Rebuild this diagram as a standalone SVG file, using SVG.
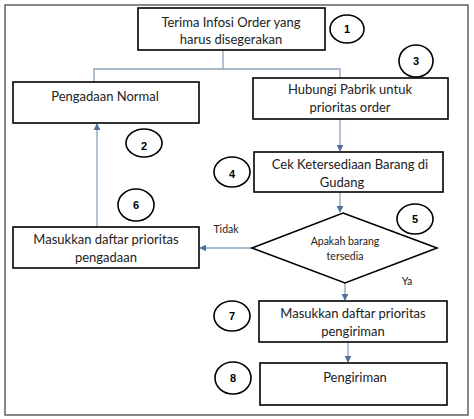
<svg xmlns="http://www.w3.org/2000/svg" width="474" height="419" viewBox="0 0 474 419">
<style>
.box{fill:#fff;stroke:#000;stroke-width:1.6}
.t{font-family:Lato,"Open Sans",sans-serif;font-size:13px;fill:#222;text-anchor:middle}
.s{font-family:Lato,"Open Sans",sans-serif;font-size:10.5px;fill:#222;text-anchor:middle}
.c{fill:#fff;stroke:#000;stroke-width:1.6}
.n{font-family:"Liberation Sans",Arial,sans-serif;font-size:11px;font-weight:bold;fill:#000;text-anchor:middle}
.ln{fill:none;stroke:#8aa3bb;stroke-width:1.3}
</style>
<defs>
<marker id="ah" viewBox="0 0 10 10" refX="9" refY="5" markerWidth="7" markerHeight="7" markerUnits="userSpaceOnUse" orient="auto">
<path d="M0,0 L10,5 L0,10 z" fill="#4f6f9a"/>
</marker>
</defs>
<rect x="0" y="0" width="474" height="419" fill="#fff"/>
<rect x="5" y="5" width="463" height="410" fill="#fff" stroke="#555" stroke-width="1.4"/>
<g id="connectors">
<path class="ln" d="M223,50 V69 M94,82 V69 H340 V78"/>
<path class="ln" d="M340,119 V151" marker-end="url(#ah)"/>
<path class="ln" d="M340,192 V212" marker-end="url(#ah)"/>
<path class="ln" d="M97,227 V124" marker-end="url(#ah)"/>
<path class="ln" d="M252,248 H200" marker-end="url(#ah)"/>
<path class="ln" d="M345,283 V300" marker-end="url(#ah)"/>
<path class="ln" d="M348,342 V362" marker-end="url(#ah)"/>
<text class="s" x="226" y="233">Tidak</text>
<text class="s" x="407" y="285">Ya</text>
</g>
<g id="n1">
<rect class="box" x="138" y="8" width="187" height="42"/>
<text class="t" x="231" y="27">Terima Infosi Order yang</text>
<text class="t" x="231" y="44">harus disegerakan</text>
</g>
<g id="c1"><ellipse class="c" cx="347" cy="29" rx="17" ry="14"/><text class="n" x="347" y="33">1</text></g>
<g id="c3"><ellipse class="c" cx="416" cy="61" rx="17" ry="16"/><text class="n" x="416" y="65">3</text></g>
<g id="n2">
<rect class="box" x="13" y="82" width="186" height="41"/>
<text class="t" x="105" y="101">Pengadaan Normal</text>
</g>
<g id="n3">
<rect class="box" x="253" y="78" width="195" height="41"/>
<text class="t" x="350" y="94">Hubungi Pabrik untuk</text>
<text class="t" x="350" y="112">prioritas order</text>
</g>
<g id="c2"><ellipse class="c" cx="144" cy="143" rx="18" ry="14"/><text class="n" x="144" y="150">2</text></g>
<g id="n4">
<rect class="box" x="254" y="152" width="189" height="40"/>
<text class="t" x="350" y="169">Cek Ketersediaan Barang di</text>
<text class="t" x="342" y="187">Gudang</text>
</g>
<g id="c4"><ellipse class="c" cx="232" cy="172" rx="18" ry="15"/><text class="n" x="232" y="178">4</text></g>
<g id="c6"><ellipse class="c" cx="136" cy="205" rx="18" ry="16"/><text class="n" x="136" y="209">6</text></g>
<g id="n6">
<rect class="box" x="13" y="227" width="186" height="41"/>
<text class="t" x="106" y="244">Masukkan daftar prioritas</text>
<text class="t" x="106" y="262">pengadaan</text>
</g>
<g id="n5">
<polygon class="box" points="343,213 437,248 345,283 252,248"/>
<text class="s" x="345" y="245">Apakah barang</text>
<text class="s" x="345" y="260">tersedia</text>
</g>
<g id="c5"><ellipse class="c" cx="415" cy="219" rx="18" ry="15"/><text class="n" x="415" y="223">5</text></g>
<g id="n7">
<rect class="box" x="259" y="301" width="188" height="41"/>
<text class="t" x="353" y="318">Masukkan daftar prioritas</text>
<text class="t" x="353" y="336">pengiriman</text>
</g>
<g id="c7"><ellipse class="c" cx="232" cy="316" rx="18" ry="15"/><text class="n" x="232" y="320">7</text></g>
<g id="n8">
<rect class="box" x="260" y="363" width="187" height="42"/>
<text class="t" x="355" y="382">Pengiriman</text>
</g>
<g id="c8"><ellipse class="c" cx="233" cy="378" rx="18" ry="16"/><text class="n" x="233" y="382">8</text></g>
</svg>
